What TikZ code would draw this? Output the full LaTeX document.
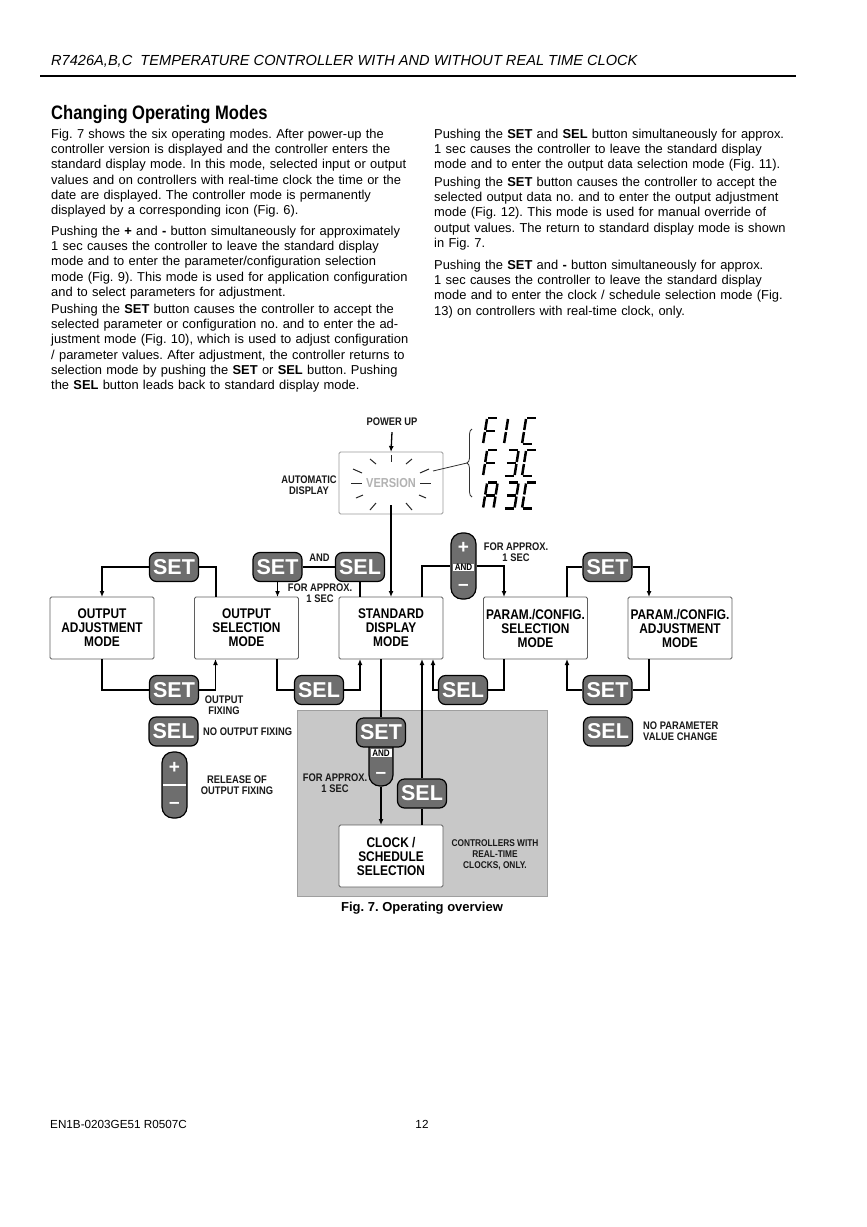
\documentclass[tikz,border=0pt]{standalone}
\usepackage{xcolor}
\usepackage{fontspec}
\setmainfont{Liberation Sans}
\newfontfamily\narrowfont{Liberation Sans}[FakeStretch=0.85]
\usetikzlibrary{arrows.meta,positioning,decorations.pathreplacing}

\definecolor{btngray}{RGB}{110,110,110}
\definecolor{boxline}{RGB}{95,95,95}
\definecolor{zonegray}{RGB}{200,200,200}

% 七段数码管的各段
\newcommand{\sgA}{\draw[seg] (0.9,-26) -- (9.6,-26);}
\newcommand{\sgB}{\draw[seg] (10.5,-25) -- (10.5,-14);}
\newcommand{\sgC}{\draw[seg] (10.5,-12) -- (10.5,-1);}
\newcommand{\sgD}{\draw[seg] (0.9,0) -- (9.6,0);}
\newcommand{\sgE}{\draw[seg] (0,-1) -- (0,-12);}
\newcommand{\sgF}{\draw[seg] (0,-14) -- (0,-25);}
\newcommand{\sgG}{\draw[seg] (0.9,-13) -- (9.6,-13);}
\newcommand{\chF}{\sgA\sgE\sgF\sgG}
\newcommand{\chC}{\sgA\sgD\sgE\sgF}
\newcommand{\chThree}{\sgA\sgB\sgC\sgD\sgG}
\newcommand{\chA}{\sgA\sgB\sgC\sgE\sgF\sgG}
\newcommand{\chOne}{\sgE\sgF}
\newcommand{\segchar}[3]{\begin{scope}[shift={(#1,#2)},xslant=0.16]#3\end{scope}}

\begin{document}
\frenchspacing
\begin{tikzpicture}[x=1pt,y=-1pt,
    para/.style={anchor=base west,inner sep=0,text width=380,align=left,
      font=\fontsize{12.9}{15.35}\selectfont},
    modebox/.style={draw=boxline,fill=white,line width=0.9,rounded corners=1.5,
      minimum width=104,minimum height=62,inner sep=0,outer sep=0,align=center,
      font=\narrowfont\bfseries\fontsize{14}{14}\selectfont},
    btn/.style={draw=black,fill=btngray,line width=1.2,rounded corners=7,
      minimum width=49,minimum height=29,inner sep=0,text=white,
      font=\bfseries\fontsize{21.5}{21.5}\selectfont},
    pill/.style={draw=black,fill=btngray,line width=1.2,rounded corners=11,
      minimum width=25,inner sep=0},
    pilltxt/.style={inner sep=0,text=white,font=\bfseries\fontsize{19}{19}\selectfont},
    andtag/.style={fill=white,inner sep=0.6,minimum width=21,
      font=\narrowfont\bfseries\fontsize{9.5}{9.5}\selectfont},
    lbl/.style={inner sep=0,align=center,text=black!90,
      font=\narrowfont\bfseries\fontsize{11}{11}\selectfont},
    conn/.style={line width=1.3},
    arr/.style={conn,-{Latex[length=6,width=5]}},
    ray/.style={line width=1,black!85},
    seg/.style={line width=2.5}]

    \useasboundingbox (0,0) rectangle (867,1227);
    \fill[white] (0,0) rectangle (867,1227);

    % 页眉
    \node[anchor=base west,inner sep=0,font=\itshape\fontsize{14.6}{14.6}\selectfont]
      (header) at (51,65) {R7426A,B,C\ \ TEMPERATURE CONTROLLER WITH AND WITHOUT REAL TIME CLOCK};
    \draw[line width=1.5] (40,76) -- (796,76);

    % 标题与正文
    \node[anchor=base west,inner sep=0,font=\narrowfont\bfseries\fontsize{19.5}{19.5}\selectfont]
      (title) at (51,119) {Changing Operating Modes};

    \node[para] (pl1) at (51,138) {Fig. 7 shows the six operating modes. After power-up the\\
      controller version is displayed and the controller enters the\\
      standard display mode. In this mode, selected input or output\\
      values and on controllers with real-time clock the time or the\\
      date are displayed. The controller mode is permanently\\
      displayed by a corresponding icon (Fig. 6).};
    \node[para] (pl2) at (51,235) {Pushing the \textbf{+} and \textbf{-} button simultaneously for approximately\\
      1 sec causes the controller to leave the standard display\\
      mode and to enter the parameter/configuration selection\\
      mode (Fig. 9). This mode is used for application configuration\\
      and to select parameters for adjustment.};
    \node[para] (pl3) at (51,313) {Pushing the \textbf{SET} button causes the controller to accept the\\
      selected parameter or configuration no. and to enter the ad-\\
      justment mode (Fig. 10), which is used to adjust configuration\\
      / parameter values. After adjustment, the controller returns to\\
      selection mode by pushing the \textbf{SET} or \textbf{SEL} button. Pushing\\
      the \textbf{SEL} button leads back to standard display mode.};
    \node[para] (pr1) at (434,138) {Pushing the \textbf{SET} and \textbf{SEL} button simultaneously for approx.\\
      1 sec causes the controller to leave the standard display\\
      mode and to enter the output data selection mode (Fig. 11).};
    \node[para] (pr2) at (434,186) {Pushing the \textbf{SET} button causes the controller to accept the\\
      selected output data no. and to enter the output adjustment\\
      mode (Fig. 12). This mode is used for manual override of\\
      output values. The return to standard display mode is shown\\
      in Fig. 7.};
    \node[para] (pr3) at (434,269) {Pushing the \textbf{SET} and \textbf{-} button simultaneously for approx.\\
      1 sec causes the controller to leave the standard display\\
      mode and to enter the clock / schedule selection mode (Fig.\\
      13) on controllers with real-time clock, only.};

    % 灰色区域（带实时时钟）
    \fill[zonegray,draw=gray!75,line width=0.8] (297,710) rectangle (547,896);

    % 上电与版本显示
    \node[lbl] (pwr) at (392,422) {POWER UP};
    \node[modebox,draw=gray!80] (ver) at (391,483) {};
    \node[inner sep=0,text=gray!60,font=\narrowfont\bfseries\fontsize{13}{13}\selectfont]
      (vertxt) at (391,483) {VERSION};
    \node[lbl] (auto) at (309,485) {AUTOMATIC\\DISPLAY};
    \foreach \xa/\ya/\xb/\yb in {370/459/376/464, 391/455/391/462, 406/464/412/459,
        353/469/362/473, 420/473/429/469, 351/483/362/483, 420/483/431/483,
        356/498/363/495, 419/495/426/498, 370/510/376/503, 406/503/412/510}
      \draw[ray] (\xa,\ya) -- (\xb,\yb);
    \coordinate (vout) at (391,505);
    \coordinate (vtip) at (467,463);
    \draw[line width=0.8,black!80] (433,471) -- (vtip);
    \draw[line width=0.8,black!80,decorate,decoration={brace,amplitude=5}] (472,497) -- (472,429);

    % 版本代码
    \segchar{483}{444}{\chF}
    \segchar{504}{444}{\chOne}
    \segchar{522}{444}{\chC}
    \segchar{483}{476}{\chF}
    \segchar{504}{476}{\chThree}
    \segchar{522}{476}{\chC}
    \segchar{483}{508.5}{\chA}
    \segchar{504}{508.5}{\chThree}
    \segchar{522}{508.5}{\chC}

    % 五个模式框
    \node[modebox] (oa) at (102,628) {OUTPUT\\ADJUSTMENT\\MODE};
    \node[modebox,right=40.5 of oa] (os) {OUTPUT\\SELECTION\\MODE};
    \node[modebox,right=40.5 of os] (sd) {STANDARD\\DISPLAY\\MODE};
    \node[modebox,right=40.5 of sd] (pcs) {PARAM./CONFIG.\\SELECTION\\MODE};
    \node[modebox,right=40.5 of pcs] (pca) {PARAM./CONFIG.\\ADJUSTMENT\\MODE};
    \node[modebox] (clk) at (391,856) {CLOCK /\\SCHEDULE\\SELECTION};

    % 按键
    \node[btn] (set1) at (174,567) {SET};
    \node[btn] (set2) at (277.5,567) {SET};
    \node[btn] (sel2) at (360,567) {SEL};
    \node[btn] (set3) at (607.5,567) {SET};
    \node[btn] (set4) at (174,690) {SET};
    \node[btn] (sel4) at (319,690) {SEL};
    \node[btn] (sel5) at (463,690) {SEL};
    \node[btn] (set5) at (607.5,690) {SET};
    \node[btn] (sel6) at (173.5,731.5) {SEL};
    \node[btn] (sel7) at (608,731.5) {SEL};

    \node[pill,minimum height=66] (pm1) at (463.5,566) {};
    \node[pilltxt] (pm1p) at (463.5,548) {+};
    \node[andtag] (pm1and) at (463.5,567.5) {AND};
    \node[pilltxt] (pm1m) at (463.5,587) {--};

    \node[pill,minimum height=66] (pm2) at (174.5,785) {};
    \node[pilltxt] (pm2p) at (174.5,768) {+};
    \draw[white,line width=1.2] ([xshift=2]pm2.west) -- ([xshift=-2]pm2.east);
    \node[pilltxt] (pm2m) at (174.5,805) {--};

    \node[pill,minimum height=52,minimum width=24] (scpill) at (381,760) {};
    \node[btn] (setc) at (381,732.5) {SET};
    \node[andtag] (scand) at (381,753) {AND};
    \node[pilltxt] (scm) at (381,775) {--};
    \node[btn] (selc) at (422,793.5) {SEL};

    % 文字说明
    \node[lbl] (and1) at (319.5,558) {AND};
    \node[lbl] (apx1) at (320,593.5) {FOR APPROX.\\1 SEC};
    \node[lbl] (apx2) at (516,552.5) {FOR APPROX.\\1 SEC};
    \node[lbl] (fix) at (224,705) {OUTPUT\\FIXING};
    \node[lbl,anchor=west] (nofix) at (203,732) {NO OUTPUT FIXING};
    \node[lbl] (rel) at (237,785.5) {RELEASE OF\\OUTPUT FIXING};
    \node[lbl,align=left,anchor=west] (nopar) at (643,731.5) {NO PARAMETER\\VALUE CHANGE};
    \node[lbl] (apx3) at (335,783.5) {FOR APPROX.\\1 SEC};
    \node[lbl,font=\narrowfont\bfseries\fontsize{9.8}{11}\selectfont] (rtc) at (495,855)
      {CONTROLLERS WITH\\REAL-TIME\\CLOCKS, ONLY.};

    % 连线
    \draw[arr] (pwr.south) ++(0,6) -- (ver.north);
    \draw[arr] (vout) -- (vout |- sd.north);
    \draw[conn] ([xshift=-30.5]os.north) |- (set1.east);
    \draw[arr] (set1.west) -| (oa.north);
    \draw[conn] (set2.east) -- (sel2.west);
    \draw[arr] (set2.south) -- (set2.south |- os.north);
    \draw[conn] (sel2.south) -- (sel2.south |- sd.north);
    \draw[conn] ([xshift=31]sd.north) |- (pm1.west);
    \draw[arr] (pm1.east) -| ([xshift=-31.5]pcs.north);
    \draw[conn] ([xshift=31.5]pcs.north) |- (set3.west);
    \draw[arr] (set3.east) -| ([xshift=-31]pca.north);

    \draw[conn] (oa.south) |- (set4.west);
    \draw[arr] (set4.east) -| ([xshift=-31]os.south);
    \draw[conn] ([xshift=30.5]os.south) |- (sel4.west);
    \draw[arr] (sel4.east) -| ([xshift=-31]sd.south);
    \draw[conn] ([xshift=-31.5]pcs.south) |- (sel5.east);
    \draw[arr] (sel5.west) -| ([xshift=42]sd.south);
    \draw[conn] ([xshift=-31]pca.south) |- (set5.east);
    \draw[arr] (set5.west) -| ([xshift=31.5]pcs.south);

    \draw[conn] ([xshift=-10]sd.south) -- (setc.north);
    \draw[arr] (scpill.south) -- (scpill.south |- clk.north);
    \draw[conn] ([xshift=31]clk.north) -- (selc.south);
    \draw[arr] (selc.north) -- (selc.north |- sd.south);

    % 图题与页脚
    \node[inner sep=0,font=\bfseries\fontsize{13}{13}\selectfont] (cap) at (422,908)
      {Fig. 7. Operating overview};
    \node[anchor=base west,inner sep=0,font=\fontsize{11.7}{11.7}\selectfont] (foot) at (50,1128)
      {EN1B-0203GE51 R0507C};
    \node[anchor=base,inner sep=0,font=\fontsize{11.7}{11.7}\selectfont] (pagenum) at (422,1128) {12};

\end{tikzpicture}
\end{document}
